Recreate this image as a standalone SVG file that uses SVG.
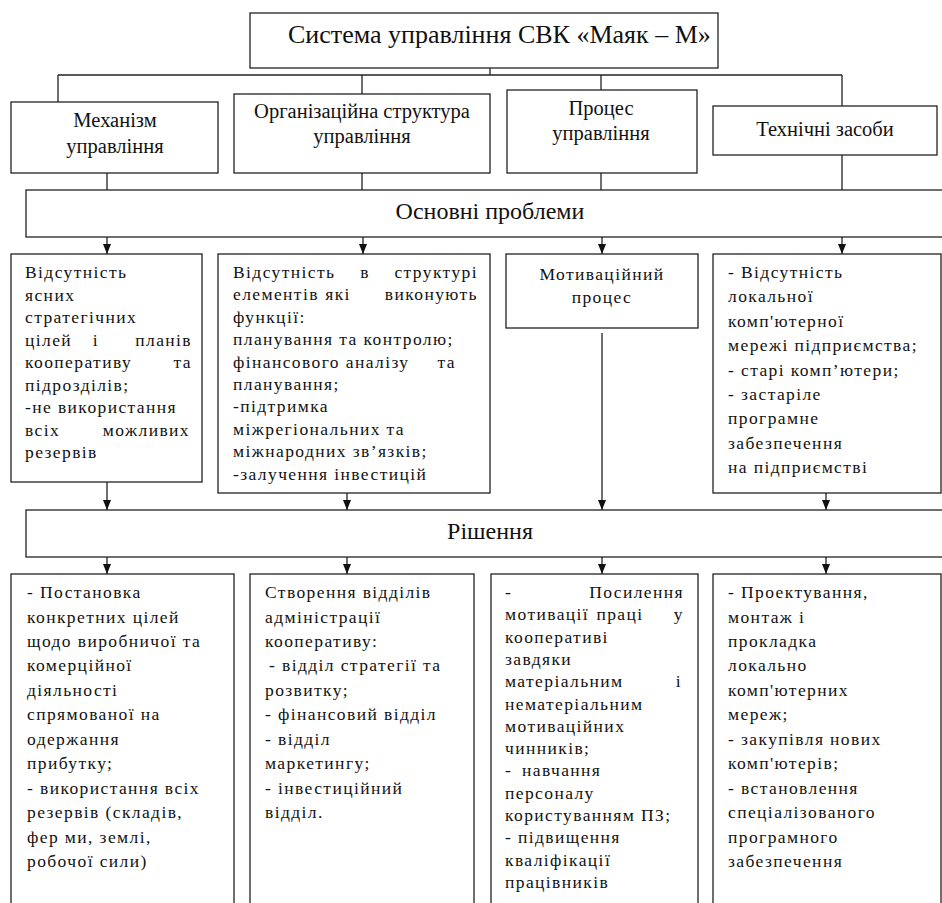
<svg xmlns="http://www.w3.org/2000/svg" width="942" height="903" viewBox="0 0 942 903">
<defs>
<style>
.box{fill:#fff;stroke:#222;stroke-width:1.3}
.ln{stroke:#222;stroke-width:1.3;fill:none}
.ar{stroke:#222;stroke-width:1.3;fill:none;marker-end:url(#ah)}
text{font-family:'Liberation Serif','Times New Roman','DejaVu Serif',serif;fill:#111}
.t{font-size:17.5px;letter-spacing:1.4px}
.h2{font-size:20.5px;text-anchor:middle}
.hb{font-size:24px;text-anchor:middle}
.h1{font-size:26px}
.c{text-anchor:middle}
.m{text-anchor:middle}
.e{text-anchor:end}
</style>
<marker id="ah" viewBox="0 0 10 8" refX="10" refY="4" markerWidth="10" markerHeight="8" markerUnits="userSpaceOnUse" orient="auto">
<path d="M0,0 L10,4 L0,8 z" fill="#111"/>
</marker>
</defs>
<rect width="942" height="903" fill="#fff"/>

<g id="connectors">
<line class="ln" x1="490" y1="43" x2="490" y2="75"/>
<line class="ln" x1="58" y1="75" x2="842" y2="75"/>
<line class="ln" x1="58" y1="75" x2="58" y2="108"/>
<line class="ln" x1="362" y1="75" x2="362" y2="94"/>
<line class="ln" x1="601" y1="75" x2="601" y2="90"/>
<line class="ln" x1="842" y1="75" x2="842" y2="106"/>
<line class="ln" x1="107" y1="173" x2="107" y2="190"/>
<line class="ln" x1="362" y1="173" x2="362" y2="190"/>
<line class="ln" x1="601" y1="173" x2="601" y2="190"/>
<line class="ln" x1="842" y1="155" x2="842" y2="190"/>
<line class="ar" x1="107" y1="237" x2="107" y2="254"/>
<line class="ar" x1="363" y1="237" x2="363" y2="254"/>
<line class="ar" x1="602" y1="237" x2="602" y2="254"/>
<line class="ar" x1="842" y1="237" x2="842" y2="254"/>
<line class="ar" x1="107" y1="482" x2="107" y2="510"/>
<line class="ar" x1="347" y1="493" x2="347" y2="510"/>
<line class="ar" x1="602" y1="333" x2="602" y2="510"/>
<line class="ar" x1="826" y1="493" x2="826" y2="510"/>
<line class="ar" x1="107" y1="557" x2="107" y2="574"/>
<line class="ar" x1="347" y1="557" x2="347" y2="574"/>
<line class="ar" x1="602" y1="557" x2="602" y2="574"/>
<line class="ar" x1="826" y1="557" x2="826" y2="574"/>
</g>

<g id="n-title">
<rect class="box" x="250" y="13" width="468" height="55"/>
<text class="h1" x="288" y="43">Система управління СВК «Маяк – М»</text>
</g>

<g id="n-mech">
<rect class="box" x="11" y="102" width="207" height="71"/>
<text class="h2" x="115" y="127">Механізм</text>
<text class="h2" x="115" y="153">управління</text>
</g>
<g id="n-org">
<rect class="box" x="234" y="94" width="256" height="79"/>
<text class="h2" x="362" y="118">Організаційна структура</text>
<text class="h2" x="362" y="143">управління</text>
</g>
<g id="n-proc">
<rect class="box" x="507" y="90" width="190" height="83"/>
<text class="h2" x="601" y="115">Процес</text>
<text class="h2" x="601" y="140">управління</text>
</g>
<g id="n-tech">
<rect class="box" x="713" y="106" width="224" height="49"/>
<text class="h2" x="825" y="136">Технічні засоби</text>
</g>

<g id="n-problems">
<rect class="box" x="26" y="190" width="920" height="47"/>
<text class="hb" x="490" y="219">Основні проблеми</text>
</g>

<g id="n-p1">
<rect class="box" x="11" y="254" width="191" height="228"/>
<text class="t" x="25" y="278">Відсутність</text>
<text class="t" x="25" y="300.5">ясних</text>
<text class="t" x="25" y="323">стратегічних</text>
<text class="t" x="25" y="345.5">цілей</text>
<text class="t m" x="96" y="345.5">і</text>
<text class="t e" x="192" y="345.5">планів</text>
<text class="t" x="25" y="368">кооперативу</text>
<text class="t e" x="192" y="368">та</text>
<text class="t" x="25" y="390.5">підрозділів;</text>
<text class="t" x="25" y="413">-не використання</text>
<text class="t" x="25" y="435.5">всіх</text>
<text class="t e" x="190" y="435.5">можливих</text>
<text class="t" x="25" y="458">резервів</text>
</g>

<g id="n-p2">
<rect class="box" x="218" y="254" width="272" height="239"/>
<text class="t" x="233" y="278">Відсутність</text>
<text class="t m" x="365" y="278">в</text>
<text class="t e" x="478" y="278">структурі</text>
<text class="t" x="233" y="300.4">елементів</text>
<text class="t m" x="338" y="300.4">які</text>
<text class="t e" x="478" y="300.4">виконують</text>
<text class="t" x="233" y="322.8">функції:</text>
<text class="t" x="233" y="345.2">планування та контролю;</text>
<text class="t" x="233" y="367.6">фінансового аналізу</text>
<text class="t e" x="456" y="367.6">та</text>
<text class="t" x="233" y="390">планування;</text>
<text class="t" x="233" y="412.4">-підтримка</text>
<text class="t" x="233" y="434.8">міжрегіональних та</text>
<text class="t" x="233" y="457.2">міжнародних зв’язків;</text>
<text class="t" x="233" y="479.6">-залучення інвестицій</text>
</g>

<g id="n-p3">
<rect class="box" x="506" y="254" width="192" height="74"/>
<text class="t c" x="602" y="280">Мотиваційний</text>
<text class="t c" x="602" y="303">процес</text>
</g>

<g id="n-p4">
<rect class="box" x="713" y="254" width="228" height="239"/>
<text class="t" x="728" y="278">- Відсутність</text>
<text class="t" x="728" y="302.4">локальної</text>
<text class="t" x="728" y="326.8">комп'ютерної</text>
<text class="t" x="728" y="351.2">мережі підприємства;</text>
<text class="t" x="728" y="375.6">- старі комп’ютери;</text>
<text class="t" x="728" y="400">- застаріле</text>
<text class="t" x="728" y="424.4">програмне</text>
<text class="t" x="728" y="448.8">забезпечення</text>
<text class="t" x="728" y="473.2">на підприємстві</text>
</g>

<g id="n-solutions">
<rect class="box" x="26" y="510" width="920" height="47"/>
<text class="hb" x="490" y="539">Рішення</text>
</g>

<g id="n-s1">
<rect class="box" x="11" y="574" width="223" height="340"/>
<text class="t" x="27" y="598">- Постановка</text>
<text class="t" x="27" y="622.5">конкретних цілей</text>
<text class="t" x="27" y="646.9">щодо виробничої та</text>
<text class="t" x="27" y="671.4">комерційної</text>
<text class="t" x="27" y="695.8">діяльності</text>
<text class="t" x="27" y="720.3">спрямованої на</text>
<text class="t" x="27" y="744.7">одержання</text>
<text class="t" x="27" y="769.2">прибутку;</text>
<text class="t" x="27" y="793.6">- використання всіх</text>
<text class="t" x="27" y="818.1">резервів (складів,</text>
<text class="t" x="27" y="842.5">фер ми, землі,</text>
<text class="t" x="27" y="867">робочої сили)</text>
</g>

<g id="n-s2">
<rect class="box" x="250" y="574" width="224" height="340"/>
<text class="t" x="265" y="598">Створення відділів</text>
<text class="t" x="265" y="622.5">адміністрації</text>
<text class="t" x="265" y="646.9">кооперативу:</text>
<text class="t" x="269" y="671.4">- відділ стратегії та</text>
<text class="t" x="265" y="695.8">розвитку;</text>
<text class="t" x="265" y="720.3">- фінансовий відділ</text>
<text class="t" x="265" y="744.7">- відділ</text>
<text class="t" x="265" y="769.2">маркетингу;</text>
<text class="t" x="265" y="793.6">- інвестиційний</text>
<text class="t" x="265" y="818.1">відділ.</text>
</g>

<g id="n-s3">
<rect class="box" x="491" y="574" width="207" height="340"/>
<text class="t" x="505" y="598">-</text>
<text class="t e" x="684" y="598">Посилення</text>
<text class="t" x="505" y="620.3">мотивації</text>
<text class="t m" x="620" y="620.3">праці</text>
<text class="t e" x="684" y="620.3">у</text>
<text class="t" x="505" y="642.6">кооперативі</text>
<text class="t" x="505" y="664.9">завдяки</text>
<text class="t" x="505" y="687.2">матеріальним</text>
<text class="t e" x="682" y="687.2">і</text>
<text class="t" x="505" y="709.5">нематеріальним</text>
<text class="t" x="505" y="731.8">мотиваційних</text>
<text class="t" x="505" y="754.1">чинників;</text>
<text class="t" x="505" y="776.4">-</text>
<text class="t" x="522" y="776.4">навчання</text>
<text class="t" x="505" y="798.7">персоналу</text>
<text class="t" x="505" y="821">користуванням ПЗ;</text>
<text class="t" x="505" y="843.3">- підвищення</text>
<text class="t" x="505" y="865.6">кваліфікації</text>
<text class="t" x="505" y="887.9">працівників</text>
</g>

<g id="n-s4">
<rect class="box" x="713" y="574" width="228" height="340"/>
<text class="t" x="728" y="598">- Проектування,</text>
<text class="t" x="728" y="622.5">монтаж і</text>
<text class="t" x="728" y="646.9">прокладка</text>
<text class="t" x="728" y="671.4">локально</text>
<text class="t" x="728" y="695.8">комп'ютерних</text>
<text class="t" x="728" y="720.3">мереж;</text>
<text class="t" x="728" y="744.7">- закупівля нових</text>
<text class="t" x="728" y="769.2">комп'ютерів;</text>
<text class="t" x="728" y="793.6">- встановлення</text>
<text class="t" x="728" y="818.1">спеціалізованого</text>
<text class="t" x="728" y="842.5">програмного</text>
<text class="t" x="728" y="867">забезпечення</text>
</g>
</svg>
